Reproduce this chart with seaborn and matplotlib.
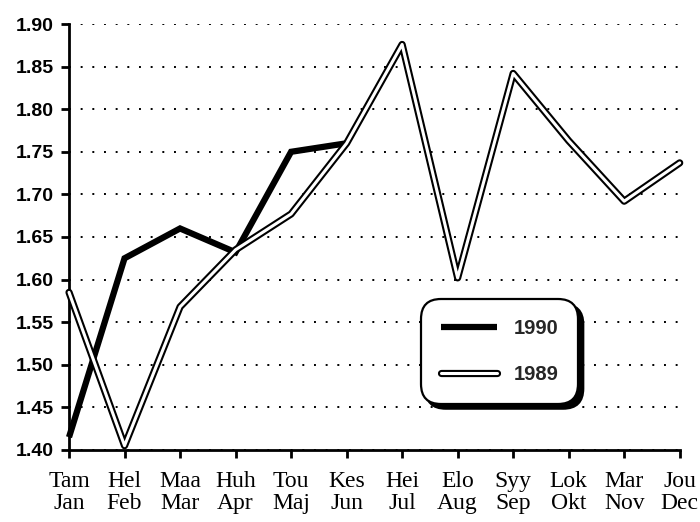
import matplotlib
matplotlib.use("Agg")
import matplotlib.pyplot as plt
import matplotlib.patheffects as pe
import pandas as pd
import seaborn as sns

# Month labels (Finnish / Swedish)
months_fi = ["Tam", "Hel", "Maa", "Huh", "Tou", "Kes", "Hei", "Elo", "Syy", "Lok", "Mar", "Jou"]
months_sv = ["Jan", "Feb", "Mar", "Apr", "Maj", "Jun", "Jul", "Aug", "Sep", "Okt", "Nov", "Dec"]

# Values
values_1990 = [1.415, 1.625, 1.660, 1.632, 1.750, 1.760]
values_1989 = [1.585, 1.405, 1.568, 1.635, 1.677, 1.760, 1.876, 1.602, 1.842, 1.763, 1.692, 1.737]

yticks = [1.40, 1.45, 1.50, 1.55, 1.60, 1.65, 1.70, 1.75, 1.80, 1.85, 1.90]

sns.set_style("ticks")
plt.rcParams["font.family"] = ["Liberation Sans", "DejaVu Sans"]

df90 = pd.DataFrame({"month": range(len(values_1990)), "value": values_1990})
df89 = pd.DataFrame({"month": range(len(values_1989)), "value": values_1989})

fig, ax = plt.subplots(figsize=(7, 5.22), dpi=100)
fig.subplots_adjust(left=0.0986, right=0.971, top=0.954, bottom=0.138)

sns.lineplot(data=df90, x="month", y="value", ax=ax, color="black", lw=4.5,
             label="1990", solid_joinstyle="miter", solid_capstyle="butt",
             clip_on=False, zorder=3)
sns.lineplot(data=df89, x="month", y="value", ax=ax, color="white", lw=2.2,
             label="1989", solid_joinstyle="round", solid_capstyle="round",
             clip_on=False, zorder=4,
             path_effects=[pe.Stroke(linewidth=5.2, foreground="black"), pe.Normal()])

ax.set_xlim(0, 11)
ax.set_ylim(1.40, 1.90)
ax.set_xticks(range(len(months_fi)))
ax.set_xticklabels([f"{a}\n{b}" for a, b in zip(months_fi, months_sv)],
                   family=["Liberation Serif", "DejaVu Serif"], fontsize=17,
                   linespacing=1.1)
ax.set_yticks(yticks)
ax.set_yticklabels([f"{v:.2f}" for v in yticks], fontsize=14, fontweight="bold")
ax.set_xlabel("")
ax.set_ylabel("")

ax.yaxis.grid(True, linestyle=(0, (1, 5)), linewidth=1.4, color="black")
ax.xaxis.grid(False)

sns.despine(ax=ax)
for side in ["left", "bottom"]:
    ax.spines[side].set_linewidth(2)
    ax.spines[side].set_color("black")
ax.tick_params(axis="both", direction="out", length=6, width=2, color="black", labelcolor="black")
ax.tick_params(axis="y", pad=5)
ax.tick_params(axis="x", pad=9)

leg = ax.legend(loc="center", bbox_to_anchor=(0.705, 0.231), handlelength=2.8,
                handletextpad=0.8, labelspacing=1.3, borderpad=1.0,
                prop={"size": 14.5, "weight": "bold"},
                frameon=True, fancybox=True, framealpha=1, edgecolor="black",
                shadow={"color": "black", "alpha": 1, "ox": 3.5, "oy": -3.5})
leg.get_frame().set_linewidth(1.6)
leg.get_frame().set_boxstyle("round,pad=0,rounding_size=1.0")

plt.savefig("out.png", dpi=100)
